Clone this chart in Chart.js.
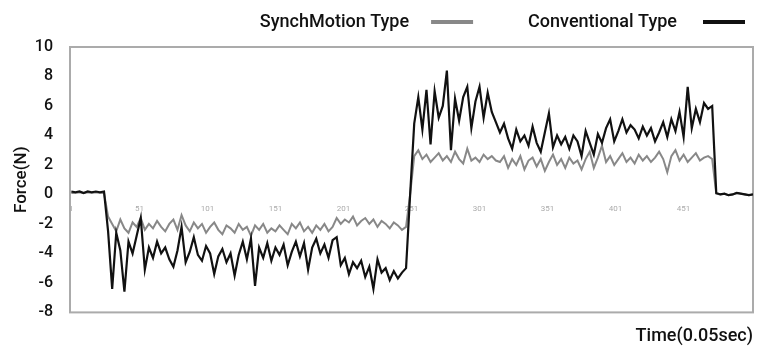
<!DOCTYPE html>
<html>
<head>
<meta charset="utf-8">
<script src="https://cdn.jsdelivr.net/npm/chart.js@4.4.0/dist/chart.umd.min.js"></script>
<style>
  html, body { margin: 0; padding: 0; background: #fff; }
  #wrap { width: 773px; height: 347px; }
</style>
</head>
<body>
<div id="wrap"><canvas id="chart" width="773" height="347"></canvas></div>
<script>
// sampled every 3 time steps (1, 4, 7, ... 502)
const synchMotion = [
  0.1, 0.1, 0.15, 0.1, 0.15, 0.1, 0.15, 0.1, 0.1,
  -1.5,
  -2.0, -2.5, -1.7, -2.3, -2.6, -1.9, -2.2, -1.6, -2.4, -2.0,
  -2.3, -1.8, -2.2, -2.5, -2.0, -1.7, -2.4, -1.4, -2.1, -2.5,
  -1.9, -2.3, -2.0, -2.6, -2.2, -1.9, -2.4, -2.7, -2.1, -2.3,
  -2.6, -2.0, -2.4, -2.2, -2.8, -2.1, -2.4, -2.0, -2.6, -2.3,
  -2.5, -2.1, -2.4, -2.7, -2.0, -2.3, -1.9, -2.5, -2.2, -2.6,
  -2.1, -2.4, -2.0, -2.5, -2.2,
  -1.6, -2.0, -1.7, -1.9, -1.5, -2.1, -1.8, -1.6, -2.0, -1.7,
  -2.2, -1.8, -2.0, -2.3, -1.9, -2.1, -2.4, -2.2,
  0.0,
  2.6, 3.0, 2.4, 2.7, 2.2, 2.5, 2.8, 2.3, 2.6, 2.2,
  2.9, 2.4, 2.1, 3.1, 2.3, 2.5, 2.2, 2.7, 2.4, 2.6, 2.3,
  2.2, 2.6, 1.8, 2.4, 2.0, 2.6, 1.7, 2.3, 2.5, 1.9,
  2.4, 1.6, 2.2, 2.7, 2.0, 2.4, 1.8, 2.5, 2.1, 2.3,
  1.7, 2.4, 2.9, 1.8, 2.5, 3.3, 2.2, 2.6, 2.0, 2.4,
  2.8, 2.2, 2.5, 2.1, 2.7, 2.3, 2.6, 2.2, 2.5, 2.9,
  2.4, 1.5, 2.6, 3.0, 2.3, 2.7, 2.2, 2.5, 2.8, 2.3,
  2.5, 2.6, 2.4,
  0.05, 0.0, 0.05, -0.05, 0.0, 0.1, 0.05, 0.0, -0.05, 0.0
];
const conventional = [
  0.2, 0.15, 0.2, 0.1, 0.2, 0.15, 0.2, 0.15, 0.2,
  -2.5,
  -6.4, -2.6, -3.8, -6.6, -3.2, -4.0, -2.8, -1.6, -5.1, -3.6,
  -4.3, -3.2, -4.0, -3.6, -4.4, -4.9, -3.8, -2.2, -4.6, -3.9,
  -2.9, -4.1, -4.5, -3.5, -4.0, -5.4, -4.2, -3.7, -4.6, -4.0,
  -5.5, -4.1, -3.2, -4.4, -3.0, -6.2, -3.6, -4.3, -3.3, -4.5,
  -3.6, -4.1, -3.4, -4.8, -3.9, -3.2, -4.2, -3.3, -5.1, -3.6,
  -3.0, -4.0, -3.4, -4.3, -3.1,
  -2.9, -4.8, -4.3, -5.4, -4.6, -5.0, -4.5, -5.6, -4.9, -6.4,
  -4.4, -5.3, -5.0, -5.8, -5.2, -5.7, -5.3, -5.0,
  0.0,
  4.8, 6.6, 4.4, 7.1, 3.4, 7.0, 5.2, 6.0, 8.4, 3.0,
  6.5, 5.0, 6.6, 7.3, 4.5, 6.3, 7.3, 5.2, 6.9, 5.6, 4.9,
  4.2, 4.8, 3.8, 3.1, 4.4, 3.6, 4.0, 3.3, 4.6, 3.5,
  2.9, 4.2, 5.5, 3.2, 4.0, 3.4, 3.9, 3.1, 4.0, 3.6,
  2.6, 4.3, 3.5, 2.7, 4.1, 3.5, 4.5, 5.1, 3.6, 4.3,
  5.1, 4.2, 4.7, 4.4, 3.8, 4.6, 4.0, 4.5, 3.6, 4.2,
  4.9, 3.9, 5.1, 4.3, 5.6, 3.9, 7.3, 4.5, 5.8, 4.9,
  6.2, 5.8, 6.0,
  0.1, 0.0, 0.05, -0.05, 0.0, 0.1, 0.05, 0.0, -0.05, 0.0
];
const timeSteps = conventional.map((_, i) => 1 + i * 3);
const xTickValues = [1, 51, 101, 151, 201, 251, 301, 351, 401, 451];
const yTickValues = [10, 8, 6, 4, 2, 0, -2, -4, -6, -8];
const seriesNames = ['SynchMotion Type', 'Conventional Type'];
const seriesColors = ['#888888', '#111111'];

const FONT = "Roboto, 'DejaVu Sans', sans-serif";

// frame round the plot area
const framePlugin = {
  id: 'frame',
  beforeDatasetsDraw(chart) {
    const { ctx, chartArea: a } = chart;
    ctx.save();
    ctx.strokeStyle = '#ababab';
    ctx.lineWidth = 2;
    ctx.strokeRect(a.left, a.top, a.right - a.left, a.bottom - a.top);
    ctx.restore();
  }
};

// legend with the line sample to the right of the text
const sideLegend = {
  id: 'sideLegend',
  afterDraw(chart) {
    const ctx = chart.ctx;
    const y = 22;
    const lineLen = 42;
    let x = chart.chartArea.right - 8;
    ctx.save();
    ctx.font = '500 18px ' + FONT;
    ctx.textAlign = 'right';
    ctx.textBaseline = 'middle';
    for (let i = seriesNames.length - 1; i >= 0; i--) {
      ctx.strokeStyle = seriesColors[i];
      ctx.lineWidth = 4;
      ctx.beginPath();
      ctx.moveTo(x - lineLen, y);
      ctx.lineTo(x, y);
      ctx.stroke();
      x -= lineLen + (i === 1 ? 26 : 22);
      ctx.fillStyle = '#111';
      ctx.fillText(seriesNames[i], x, y);
      x -= ctx.measureText(seriesNames[i]).width + 55;
    }
    ctx.restore();
  }
};

new Chart(document.getElementById('chart'), {
  type: 'line',
  data: {
    datasets: [
      {
        label: seriesNames[0],
        data: synchMotion.map((v, i) => ({ x: timeSteps[i], y: v })),
        borderColor: seriesColors[0],
        borderWidth: 2,
        pointRadius: 0,
        order: 1
      },
      {
        label: seriesNames[1],
        data: conventional.map((v, i) => ({ x: timeSteps[i], y: v })),
        borderColor: seriesColors[1],
        borderWidth: 2.2,
        pointRadius: 0,
        order: 0
      }
    ]
  },
  options: {
    responsive: false,
    animation: false,
    layout: { padding: { top: 47, right: 20, left: 0, bottom: 0 } },
    plugins: {
      legend: { display: false },
      tooltip: { enabled: false },
      title: {
        display: true,
        text: 'Time(0.05sec)',
        position: 'bottom',
        align: 'end',
        color: '#111',
        font: { family: FONT, size: 18, weight: '500' },
        padding: { top: 13, bottom: 0 }
      }
    },
    scales: {
      x: {
        type: 'linear',
        position: { y: 0 },
        min: 0,
        max: 502,
        grid: { display: false },
        border: { display: false },
        afterBuildTicks: s => { s.ticks = xTickValues.map(v => ({ value: v })); },
        ticks: { color: '#ababab', font: { family: FONT, size: 8 }, padding: 2, maxRotation: 0 }
      },
      y: {
        min: -8,
        max: 10,
        grid: { display: false },
        border: { display: false },
        afterFit: s => { s.width = 70; },
        afterBuildTicks: s => { s.ticks = yTickValues.map(v => ({ value: v })); },
        ticks: { color: '#111', font: { family: FONT, size: 16, weight: '500' }, padding: 9 },
        title: {
          display: true,
          text: 'Force(N)',
          color: '#111',
          font: { family: FONT, size: 17, weight: '500' },
          padding: { top: 12, bottom: 0 }
        }
      }
    }
  },
  plugins: [framePlugin, sideLegend]
});
</script>
</body>
</html>
